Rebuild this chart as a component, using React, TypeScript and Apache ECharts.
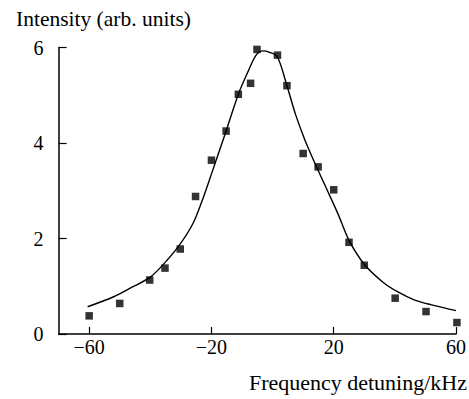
import React, { useEffect, useRef } from "react";
import * as echarts from "echarts";

const xTickValues = [-60, -20, 20, 60];
const yTickValues = [0, 2, 4, 6];

const measuredX = [-60, -50, -40.2, -35.2, -30.2, -25.2, -20, -15.2, -11.2, -7.2, -5.1, 1.6, 4.7, 10, 14.9, 20, 25, 30, 40.1, 50.2, 60.3];
const measuredY = [0.38, 0.64, 1.13, 1.38, 1.78, 2.88, 3.64, 4.25, 5.02, 5.25, 5.96, 5.84, 5.2, 3.78, 3.5, 3.02, 1.92, 1.44, 0.75, 0.47, 0.24];

const fitX = [-60.5, -52, -46, -40, -35, -30.5, -26, -23, -20.7, -19, -15.2, -11.2, -8, -5.5, -3.3, -1, 1.6, 4.7, 7.5, 10.6, 14.1, 18.4, 21.5, 25, 30, 36, 41, 46.5, 52, 60];
const fitY = [0.57, 0.78, 0.98, 1.19, 1.51, 1.86, 2.32, 2.8, 3.22, 3.54, 4.25, 5.02, 5.5, 5.83, 5.93, 5.9, 5.8, 5.2, 4.6, 4.06, 3.54, 2.94, 2.5, 1.96, 1.46, 1.09, 0.88, 0.71, 0.61, 0.49];

const yTitle = "Intensity (arb. units)";
const xTitle = "Frequency detuning/kHz";

const FONT = "Liberation Serif";

export default function App() {
  const ref = useRef<HTMLDivElement>(null);
  useEffect(() => {
    if (!ref.current) return;
    const chart = echarts.init(ref.current, undefined, { renderer: "svg" });
    chart.setOption({
      animation: false,
      backgroundColor: "#ffffff",
      grid: { left: 58.6, right: 12, top: 47.5, bottom: 65 },
      xAxis: {
        type: "value",
        min: -70,
        max: 60,
        splitLine: { show: false },
        axisLine: { show: true, onZero: false, lineStyle: { color: "#000", width: 1.5 } },
        axisTick: {
          show: true,
          inside: true,
          length: 7,
          customValues: xTickValues,
          lineStyle: { color: "#000", width: 1.2 },
        },
        axisLabel: {
          customValues: xTickValues,
          color: "#000",
          fontFamily: FONT,
          fontSize: 20,
          margin: 3,
          formatter: (v: number) => String(v).replace("-", "\u2212"),
        },
      },
      yAxis: {
        type: "value",
        min: 0,
        max: 6,
        interval: 2,
        splitLine: { show: false },
        axisLine: { show: true, onZero: false, lineStyle: { color: "#000", width: 1.5 } },
        axisTick: {
          show: true,
          inside: true,
          length: 8,
          customValues: yTickValues,
          lineStyle: { color: "#000", width: 1.2 },
        },
        axisLabel: {
          customValues: yTickValues,
          color: "#000",
          fontFamily: FONT,
          fontSize: 20,
          margin: 15,
        },
      },
      graphic: [
        {
          type: "text",
          left: 16,
          top: 8,
          style: { text: yTitle, fill: "#000", fontFamily: FONT, fontSize: 21.5 },
        },
        {
          type: "text",
          right: 2,
          top: 371,
          style: { text: xTitle, fill: "#000", fontFamily: FONT, fontSize: 22 },
        },
      ],
      series: [
        {
          type: "line",
          data: fitX.map((x, i) => [x, fitY[i]]),
          smooth: 0.3,
          showSymbol: false,
          lineStyle: { color: "#000", width: 1.4 },
          z: 2,
        },
        {
          type: "scatter",
          data: measuredX.map((x, i) => [x, measuredY[i]]),
          symbol: "rect",
          symbolSize: 7.5,
          clip: false,
          itemStyle: { color: "#000" },
          z: 3,
        },
      ],
    });
    return () => chart.dispose();
  }, []);
  return (
    <div
      ref={ref}
      style={{ position: "fixed", left: 0, top: 0, width: 469, height: 399 }}
    />
  );
}
